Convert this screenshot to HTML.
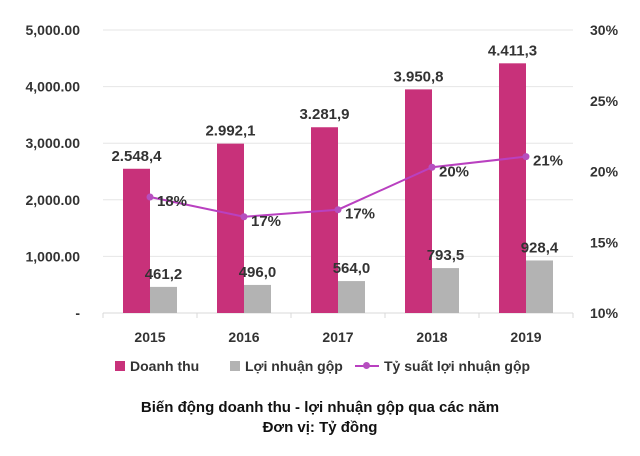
<!DOCTYPE html>
<html><head><meta charset="utf-8"><style>
body{margin:0;background:#fff;width:640px;height:451px;overflow:hidden}
svg text{font-family:"Liberation Sans",sans-serif;font-weight:bold;fill:#333}
</style></head><body>
<svg id="c" width="640" height="451"></svg>
<script>
const categories=["2015","2016","2017","2018","2019"];
const revenue=[2548.4,2992.1,3281.9,3950.8,4411.3];
const profit=[461.2,496.0,564.0,793.5,928.4];
const margin=[18.2,16.8,17.3,20.3,21.05];
const marginLabels=["18%","17%","17%","20%","21%"];
const leftTicks=[0,1000,2000,3000,4000,5000];
const leftTickLabels=["-","1,000.00","2,000.00","3,000.00","4,000.00","5,000.00"];
const rightTicks=[10,15,20,25,30];
const rightTickLabels=["10%","15%","20%","25%","30%"];
const svg=document.getElementById('c');const NS='http://www.w3.org/2000/svg';
const X0=103,X1=573,Y0=313,Y1=30;
const bw=(X1-X0)/categories.length;
const yL=v=>Y0-(v/5000)*(Y0-Y1);
const yR=v=>Y0-((v-10)/20)*(Y0-Y1);
const xC=i=>X0+bw*(i+0.5);
function mk(t,a,txt){const e=document.createElementNS(NS,t);for(const k in a)e.setAttribute(k,a[k]);if(txt!=null)e.textContent=txt;svg.appendChild(e);return e;}
const fmt=v=>v.toFixed(1).replace(/\B(?=(\d{3})+(?!\d))/g,'.').replace(/\.(\d)$/,',$1');
leftTicks.forEach((t,i)=>{
 if(t>0){const g=mk('line',{x1:X0,x2:X1,y1:yL(t),y2:yL(t),stroke:'#e6e6e6','stroke-width':1});
 
 }
 const l=mk('text',{x:80,y:yL(t)+5,'text-anchor':'end','font-size':14},leftTickLabels[i]);
 
 
});
rightTicks.forEach((t,i)=>{
 const l=mk('text',{x:590,y:yR(t)+5,'font-size':14},rightTickLabels[i]);
 
 
});
const ax=mk('line',{x1:X0,x2:X1,y1:Y0,y2:Y0,stroke:'#d9d9d9'});


for(let i=0;i<=categories.length;i++){const tk=mk('line',{x1:X0+bw*i,x2:X0+bw*i,y1:Y0,y2:Y0+5,stroke:'#d9d9d9'});
 
 }
const BW=27;
categories.forEach((c,i)=>{
 const cx=xC(i);
 const r=mk('rect',{x:cx-BW,y:yL(revenue[i]),width:BW,height:Y0-yL(revenue[i]),fill:'#c8317a'});
 
 
 const p=mk('rect',{x:cx,y:yL(profit[i]),width:BW,height:Y0-yL(profit[i]),fill:'#b3b3b3'});
 
 
 const rl=mk('text',{x:cx-BW/2,y:yL(revenue[i])-8,'text-anchor':'middle','font-size':15},fmt(revenue[i]));
 
 
 const pl=mk('text',{x:cx+BW/2,y:yL(profit[i])-8,'text-anchor':'middle','font-size':15},fmt(profit[i]));
 
 
 const xl=mk('text',{x:cx,y:342,'text-anchor':'middle','font-size':14},c);
 
 
});
const pts=margin.map((m,i)=>xC(i)+','+yR(m)).join(' ');
const pl=mk('polyline',{points:pts,fill:'none',stroke:'#b940c0','stroke-width':2});


margin.forEach((m,i)=>{
 const d=mk('circle',{cx:xC(i),cy:yR(m),r:3.5,fill:'#b64fbf'});
 
 
 const t=mk('text',{x:xC(i)+7,y:yR(m)+9,'font-size':15},marginLabels[i]);
 
 
});
</script>
<div style="position:absolute;left:0;top:358px;width:640px;font:bold 14px 'Liberation Sans',sans-serif;color:#333">
 <span style="position:absolute;left:115px;top:0"><span style="display:inline-block;width:10px;height:10px;background:#c8317a;margin-right:5px"></span>Doanh thu</span>
 <span style="position:absolute;left:230px;top:0"><span style="display:inline-block;width:10px;height:10px;background:#b3b3b3;margin-right:5px"></span>Lợi nhuận gộp</span>
 <span style="position:absolute;left:355px;top:0"><span style="display:inline-block;position:relative;width:24px;height:10px;margin-right:5px"><span style="position:absolute;left:0;top:4px;width:24px;height:2px;background:#b940c0"></span><span style="position:absolute;left:8px;top:1px;width:7px;height:7px;border-radius:50%;background:#b64fbf"></span></span>Tỷ suất lợi nhuận gộp</span>
</div>
<div style="position:absolute;left:0;top:398px;width:640px;text-align:center;font:bold 15px 'Liberation Sans',sans-serif;color:#111;line-height:20px">Biến động doanh thu - lợi nhuận gộp qua các năm<br>Đơn vị: Tỷ đồng</div>
</body></html>
